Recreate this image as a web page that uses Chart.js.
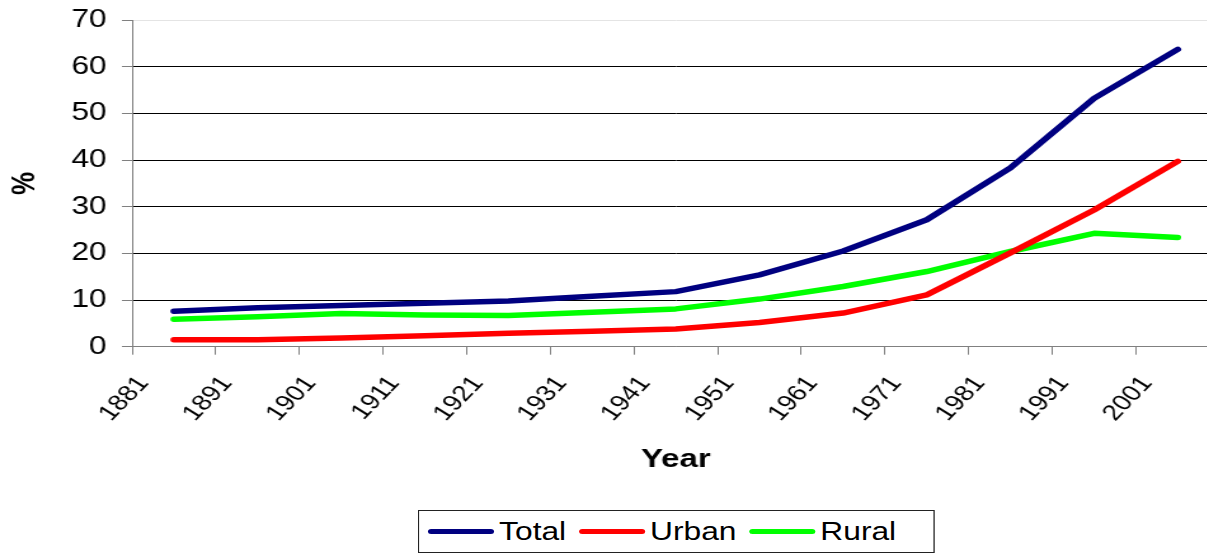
<!DOCTYPE html>
<html>
<head>
<meta charset="utf-8">
<script src="https://cdn.jsdelivr.net/npm/chart.js@4.4.0/dist/chart.umd.min.js"></script>
<style>
  html, body { margin: 0; padding: 0; background: #fff; overflow: hidden; }
  #wrap {
    position: absolute; left: 0; top: 0;
    width: 963px; height: 555px;
    transform: scaleX(1.27); transform-origin: 0 0;
  }
  #plot { position: absolute; left: 0; top: -7px; width: 963px; height: 562px; }
  #legend {
    position: absolute; left: 329px; top: 510px;
    width: 407px; height: 43px; box-sizing: border-box;
    border: 1px solid #222; background: #fff;
    display: flex; align-items: center; padding-left: 7px;
    font-family: "Liberation Sans", Arial, sans-serif; font-size: 25px; color: #000;
  }
  #legend .item { display: flex; align-items: center; margin-right: 10px; }
  #legend .swatch { width: 52px; height: 5px; border-radius: 3px; margin-right: 4px; }
</style>
</head>
<body>
<div id="wrap">
  <div id="plot"><canvas id="chart"></canvas></div>
  <div id="legend"></div>
</div>
<script>
const years = ['1881', '1891', '1901', '1911', '1921', '1931', '1941', '1951', '1961', '1971', '1981', '1991', '2001'];
const total = [7.6, 8.35, 8.85, 9.3, 9.8, 10.8, 11.8, 15.4, 20.5, 27.2, 38.3, 53.2, 63.7];
const urban = [1.5, 1.5, 1.85, 2.35, 2.9, 3.3, 3.8, 5.2, 7.2, 11.1, 20.1, 29.3, 39.7];
const rural = [5.9, 6.4, 7.1, 6.8, 6.7, 7.4, 8.1, 10.2, 12.9, 16.1, 20.4, 24.3, 23.4];

const FONT = '"Liberation Sans", Arial, sans-serif';

function series(label, data, color) {
  return {
    label: label,
    data: data,
    borderColor: color,
    backgroundColor: color,
    borderWidth: 5.5,
    borderCapStyle: 'round',
    borderJoinStyle: 'round',
    pointRadius: 0,
    tension: 0,
    fill: false
  };
}

const chart = new Chart(document.getElementById('chart'), {
  type: 'line',
  data: {
    labels: years,
    datasets: [
      series('Total', total, '#000080'),
      series('Urban', urban, '#ff0000'),
      series('Rural', rural, '#00ff00')
    ]
  },
  options: {
    responsive: true,
    maintainAspectRatio: false,
    animation: false,
    layout: { padding: { top: 0, left: 0, right: 0, bottom: 75 } },
    scales: {
      x: {
        type: 'category',
        offset: true,
        grid: {
          offset: true,
          drawOnChartArea: false,
          tickLength: 8,
          tickColor: '#808080'
        },
        border: { color: '#808080', width: 1 },
        ticks: {
          autoSkip: false,
          minRotation: 52,
          maxRotation: 52,
          labelOffset: -24,
          padding: 18,
          color: '#000',
          font: { family: FONT, size: 22, lineHeight: 1 }
        },
        title: {
          display: true,
          text: 'Year',
          color: '#000',
          font: { family: FONT, size: 26, weight: 'bold' },
          padding: { top: 1, bottom: 5 }
        }
      },
      y: {
        min: 0,
        max: 70,
        ticks: {
          stepSize: 10,
          padding: 12,
          color: '#000',
          font: { family: FONT, size: 25 }
        },
        grid: {
          color: (ctx) => {
            if (ctx.tick && ctx.tick.value === 70) return '#e4e4e4';
            if (ctx.tick && ctx.tick.value === 0) return '#808080';
            return '#000';
          },
          tickColor: '#808080',
          tickLength: 8
        },
        border: { color: '#808080', width: 1 },
        title: {
          display: true,
          text: '%',
          color: '#000',
          font: { family: FONT, size: 26, weight: 'bold' },
          padding: { top: 4, bottom: 9 }
        }
      }
    },
    plugins: {
      legend: { display: false },
      tooltip: { enabled: false }
    }
  }
});

// legend drawn as html under the plot
const legendBox = document.getElementById('legend');
chart.data.datasets.forEach(ds => {
  const item = document.createElement('div');
  item.className = 'item';
  item.innerHTML = `<span class="swatch" style="background:${ds.borderColor}"></span><span>${ds.label}</span>`;
  legendBox.appendChild(item);
});
</script>
</body>
</html>
